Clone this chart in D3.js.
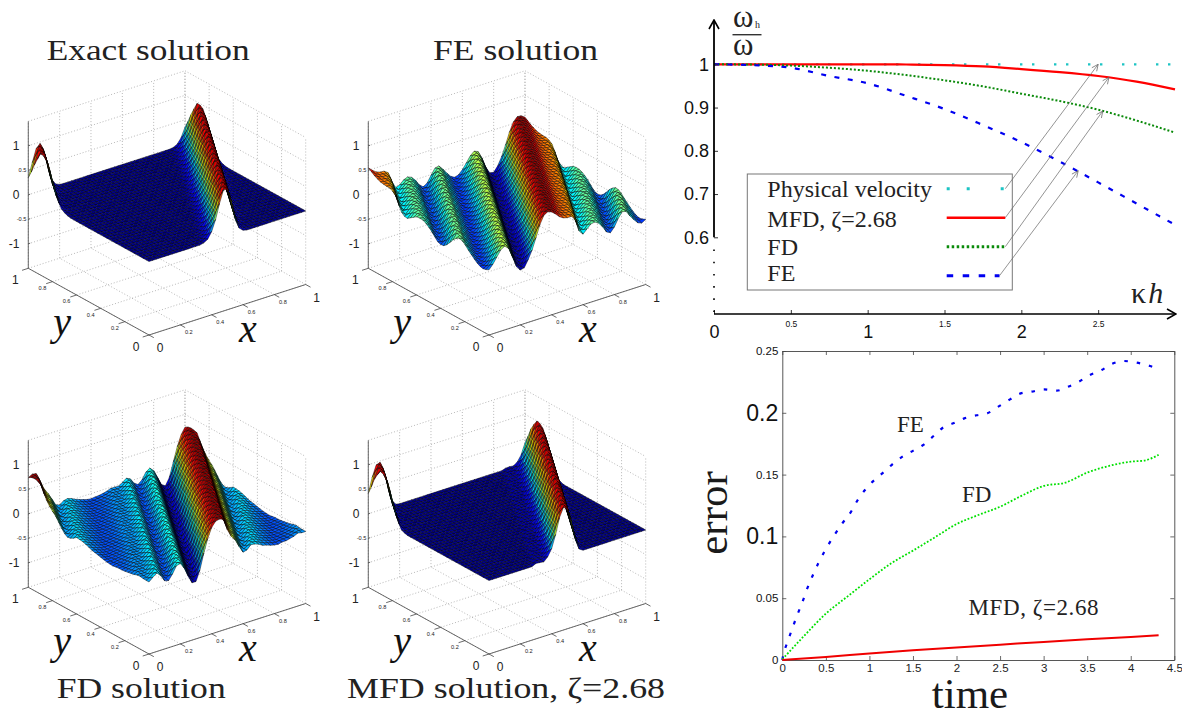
<!DOCTYPE html>
<html>
<head>
<meta charset="utf-8">
<script src="https://cdn.jsdelivr.net/npm/d3@7"></script>
<style>
    html, body { margin: 0; padding: 0; background: #fff; }
    svg { display: block; }
</style>
</head>
<body>
<div id="chart"></div>
<script>
// wave profiles, one value per phase station
const phaseStations = d3.range(41).map(i => i / 40);
const exactProfile = [0, 0, 0, 0, 0, 0, 0, 0, 0, 0, 0, 0, 0, 0, 0.02, 0.07, 0.2, 0.42, 0.72, 0.97, 0.97, 0.7, 0.3, 0.09, 0.02,
    0, 0, 0, 0, 0, 0, 0, 0, 0, 0, 0, 0, 0, 0, 0, 0];
const feProfile = [-0.17, -0.08, 0.04, 0.16, 0.21, 0.14, -0.06, -0.28, -0.38, -0.36, -0.22, -0.05, 0.18, 0.42, 0.58, 0.63, 0.6,
    0.53, 0.45, 0.4, 0.38, 0.38, 0.3, 0.03, -0.06, 0.02, 0.095, 0.11, 0.06, -0.04, -0.17, -0.21, -0.12, 0.03, 0.14, 0.12, 0,
    -0.1, -0.19, -0.22, -0.17];
const fdProfile = [-0.03, 0.04, 0.1, 0.02, -0.11, -0.13, -0.02, 0.12, 0.14, 0.02, -0.17, -0.33, -0.33, -0.12, 0.2, 0.47, 0.67,
    0.77, 0.79, 0.76, 0.52, 0.36, 0.26, 0.1, -0.04, -0.02, 0.06, 0.05, 0.02, -0.03, -0.05, -0.08, -0.1, -0.11, -0.09, -0.09,
    -0.07, -0.05, -0.01, -0.03, -0.03];
const mfdProfile = [0, 0, 0, 0, 0, 0, 0, 0, 0, 0, 0, 0, 0.04, 0.03, 0.02, 0.1, 0.24, 0.5, 0.82, 1, 0.96, 0.68, 0.28, 0.05, 0,
    0, 0, 0, 0, 0, 0, 0, 0, 0, 0, 0, 0, 0, 0, 0, 0];

const gridTicks = [0, 0.2, 0.4, 0.6, 0.8, 1];
const heightTicks = [-1, -0.5, 0, 0.5, 1];

// numerical velocity vs kh
const velocityK = [0, 0.25, 0.5, 0.75, 1, 1.25, 1.5, 1.75, 2, 2.25, 2.5, 2.75, 3];
const velocityPhysical = [1, 1, 1, 1, 1, 1, 1, 1, 1, 1, 1, 1, 1];
const velocityMfd = [1, 1, 1, 1, 1, 0.9995, 0.998, 0.995, 0.989, 0.982, 0.973, 0.96, 0.942];
const velocityFd = [1, 0.9995, 0.997, 0.992, 0.985, 0.975, 0.963, 0.949, 0.932, 0.915, 0.895, 0.87, 0.842];
const velocityFe = [1, 0.998, 0.992, 0.973, 0.956, 0.927, 0.8965, 0.8595, 0.82, 0.775, 0.727, 0.678, 0.629];
const velocityLegend = ["Physical velocity", "MFD, ζ=2.68", "FD", "FE"];
const arrowTipK = [2.5, 2.57, 2.53, 2.37];
const arrowTipV = [1, 0.97, 0.892, 0.754];

// error vs time
const feTime = [0, 0.011, 0.061, 0.115, 0.172, 0.23, 0.287, 0.348, 0.413, 0.49, 0.586, 0.689, 0.785, 0.865, 0.949, 1.037, 1.148,
    1.263, 1.389, 1.504, 1.619, 1.741, 1.848, 1.963, 2.09, 2.231, 2.354, 2.48, 2.614, 2.736, 2.863, 3.004, 3.15, 3.264, 3.398,
    3.532, 3.666, 3.781, 3.915, 4.068, 4.221, 4.3];
const feError = [0, 0.004, 0.0148, 0.0256, 0.0364, 0.0467, 0.058, 0.0682, 0.0782, 0.0885, 0.0998, 0.1106, 0.1195, 0.1294, 0.1375,
    0.1443, 0.151, 0.1583, 0.165, 0.1694, 0.174, 0.1815, 0.1882, 0.1915, 0.1955, 0.198, 0.1996, 0.205, 0.2109, 0.2157, 0.2171,
    0.219, 0.2179, 0.2206, 0.2249, 0.2306, 0.2346, 0.2395, 0.2419, 0.2406, 0.2379, 0.236];
const fdTime = [0, 0.25, 0.5, 0.75, 1, 1.25, 1.5, 1.75, 2, 2.25, 2.5, 2.75, 3, 3.25, 3.5, 3.75, 4, 4.15, 4.32];
const fdError = [0.0005, 0.0195, 0.0375, 0.0515, 0.0653, 0.0782, 0.0885, 0.0992, 0.11, 0.1173, 0.124, 0.133, 0.1408, 0.1435, 0.1516,
    0.157, 0.1605, 0.1613, 0.166];
const mfdTime = [0, 0.5, 1, 1.5, 2, 2.5, 3, 3.5, 4, 4.32];
const mfdError = [0, 0.0025, 0.0052, 0.0078, 0.0102, 0.0124, 0.0146, 0.0167, 0.0186, 0.02];
const timeTicks = [0, 0.5, 1, 1.5, 2, 2.5, 3, 3.5, 4, 4.5];
const errorTicks = [0, 0.05, 0.1, 0.15, 0.2, 0.25];

const SERIF = "'Liberation Serif', serif";
const SANS = "'Liberation Sans', sans-serif";

const svg = d3.select("#chart").append("svg")
    .attr("width", 1182)
    .attr("height", 717)
    .attr("viewBox", "0 0 1182 717");

const defs = svg.append("defs");
defs.append("marker")
    .attr("id", "thin-arrow")
    .attr("viewBox", "0 0 8 8")
    .attr("refX", 7.5).attr("refY", 4)
    .attr("markerWidth", 8).attr("markerHeight", 8)
    .attr("markerUnits", "userSpaceOnUse")
    .attr("orient", "auto")
    .append("path")
    .attr("d", "M1,1 L7.5,4 L1,7")
    .attr("fill", "none")
    .attr("stroke", "#666")
    .attr("stroke-width", 0.7);
defs.append("marker")
    .attr("id", "axis-arrow")
    .attr("viewBox", "0 0 12 12")
    .attr("refX", 11).attr("refY", 6)
    .attr("markerWidth", 12).attr("markerHeight", 12)
    .attr("markerUnits", "userSpaceOnUse")
    .attr("orient", "auto")
    .append("path")
    .attr("d", "M2,1 L11,6 L2,11")
    .attr("fill", "none")
    .attr("stroke", "#000")
    .attr("stroke-width", 1.6);

// ---------- 3d surfaces ----------
const MESH = 40;
const WAVE_SKEW = 0.583;

const jet = d3.scaleLinear()
    .domain([0, 0.125, 0.375, 0.625, 0.875, 1])
    .range(["#00008f", "#0000ff", "#00ffff", "#ffff00", "#ff0000", "#800000"]);

const xToLeft = d3.scaleLinear([0, 1], [0, 156.7]);
const xToTop = d3.scaleLinear([0, 1], [0, -50.5]);
const yToLeft = d3.scaleLinear([0, 1], [0, -120.7]);
const yToTop = d3.scaleLinear([0, 1], [0, -66.7]);
const zToTop = d3.scaleLinear([-1.5, 1.5], [0, -147]);

function project(x, y, z) {
    return [xToLeft(x) + yToLeft(y), xToTop(x) + yToTop(y) + zToTop(z)];
}

function drawSurfacePanel(left, top, profile) {
    const g = svg.append("g").attr("transform", `translate(${left},${top})`);
    const line = d3.line();

    // dotted back walls and floor
    const gridLines = [];
    gridTicks.forEach(t => {
        gridLines.push([project(t, 0, -1.5), project(t, 1, -1.5)]);
        gridLines.push([project(0, t, -1.5), project(1, t, -1.5)]);
        gridLines.push([project(t, 1, -1.5), project(t, 1, 1.5)]);
        gridLines.push([project(1, t, -1.5), project(1, t, 1.5)]);
    });
    heightTicks.concat([1.5]).forEach(z => {
        gridLines.push([project(0, 1, z), project(1, 1, z)]);
        gridLines.push([project(1, 1, z), project(1, 0, z)]);
    });
    g.append("g").selectAll("path")
        .data(gridLines)
        .join("path")
        .attr("d", line)
        .attr("fill", "none")
        .attr("stroke", "#999")
        .attr("stroke-width", 0.7)
        .attr("stroke-dasharray", "1 2");

    // surface, painted from the back corner to the front one
    const phaseScale = d3.scaleLinear(phaseStations, profile);
    const height = (x, y) => phaseScale((((x - WAVE_SKEW * y) % 1) + 1) % 1);
    const color = d3.scaleLinear(d3.extent(profile), [0, 1]);
    const cells = [];
    for (let i = MESH - 1; i >= 0; i--) {
        for (let j = MESH - 1; j >= 0; j--) {
            const corners = [[i, j], [i + 1, j], [i + 1, j + 1], [i, j + 1]].map(([a, b]) => {
                const x = a / MESH;
                const y = b / MESH;
                return { x, y, z: height(x, y) };
            });
            cells.push(corners);
        }
    }
    g.append("g").selectAll("path")
        .data(cells)
        .join("path")
        .attr("d", d => line(d.map(c => project(c.x, c.y, c.z))) + "Z")
        .attr("fill", d => jet(color(d3.mean(d, c => c.z))))
        .attr("stroke", "#000")
        .attr("stroke-width", 0.45);

    // axes
    const axisLines = [
        [project(0, 1, -1.5), project(0, 1, 1.5)],
        [project(0, 1, -1.5), project(0, 0, -1.5)],
        [project(0, 0, -1.5), project(1, 0, -1.5)]
    ];
    gridTicks.forEach(t => {
        axisLines.push([project(t, 0, -1.5), project(t, -0.04, -1.5)]);
        axisLines.push([project(0, t, -1.5), project(-0.04, t, -1.5)]);
    });
    heightTicks.forEach(z => {
        axisLines.push([project(0, 1, z), project(0.012, 1, z)]);
    });
    g.append("g").selectAll("path")
        .data(axisLines)
        .join("path")
        .attr("d", line)
        .attr("fill", "none")
        .attr("stroke", "#444")
        .attr("stroke-width", 0.8);

    // tick labels, the whole numbers are larger
    const isWhole = v => Number.isInteger(v);
    const labels = g.append("g").attr("font-family", SANS).attr("fill", "#222");
    labels.selectAll(".z-label")
        .data(heightTicks)
        .join("text")
        .attr("class", "z-label")
        .attr("x", d => project(0, 1, d)[0] - (isWhole(d) ? 9 : 2))
        .attr("y", d => project(0, 1, d)[1] + (isWhole(d) ? 4.5 : 2))
        .attr("text-anchor", "end")
        .attr("font-size", d => isWhole(d) ? 12 : 5.6)
        .text(d => d);
    labels.selectAll(".x-label")
        .data(gridTicks)
        .join("text")
        .attr("class", "x-label")
        .attr("x", d => project(d, 0, -1.5)[0] + (isWhole(d) ? 11 : 8.5))
        .attr("y", d => project(d, 0, -1.5)[1] + (isWhole(d) ? 17 : 9.5))
        .attr("text-anchor", "middle")
        .attr("font-size", d => isWhole(d) ? 12 : 5.6)
        .text(d => d);
    labels.selectAll(".y-label")
        .data(gridTicks)
        .join("text")
        .attr("class", "y-label")
        .attr("x", d => project(0, d, -1.5)[0] - (isWhole(d) ? 13 : 10))
        .attr("y", d => project(0, d, -1.5)[1] + (isWhole(d) ? 16 : 8.5))
        .attr("text-anchor", "middle")
        .attr("font-size", d => isWhole(d) ? 12 : 5.6)
        .text(d => d);

    g.append("text")
        .attr("x", 99).attr("y", 7)
        .attr("text-anchor", "middle")
        .attr("font-family", SERIF)
        .attr("font-style", "italic")
        .attr("font-size", 40)
        .attr("fill", "#111")
        .text("x");
    g.append("text")
        .attr("x", -87).attr("y", 0)
        .attr("text-anchor", "middle")
        .attr("font-family", SERIF)
        .attr("font-style", "italic")
        .attr("font-size", 40)
        .attr("fill", "#111")
        .text("y");
}

drawSurfacePanel(149, 335, exactProfile);
drawSurfacePanel(489, 335, feProfile);
drawSurfacePanel(149, 654, fdProfile);
drawSurfacePanel(489, 654, mfdProfile);

function panelTitle(label, x, y, length) {
    svg.append("text")
        .attr("x", x).attr("y", y)
        .attr("font-family", SERIF)
        .attr("font-size", 30)
        .attr("fill", "#222")
        .attr("textLength", length)
        .attr("lengthAdjust", "spacingAndGlyphs")
        .text(label);
}
panelTitle("Exact solution", 46.7, 60, 203);
panelTitle("FE solution", 433, 60, 165);
panelTitle("FD solution", 56.7, 698, 169);
panelTitle("MFD solution, ζ=2.68", 347, 698, 318);

// ---------- velocity chart ----------
const kX = d3.scaleLinear([0, 3], [714, 1175]);
const vY = d3.scaleLinear([0.6, 1], [237.3, 64.3]);
const AXIS_Y = 314;

const velocity = svg.append("g");
const velocityLine = d3.line()
    .x(d => kX(d[0]))
    .y(d => vY(d[1]))
    .curve(d3.curveMonotoneX);

const velocitySeries = [
    { values: velocityPhysical, color: "#1cc4c4", width: 2.2, dash: "2.4 9.6 2.4 19.6", keyDash: "3 17 3 31" },
    { values: velocityMfd, color: "#f00", width: 2.2, dash: null, keyDash: null },
    { values: velocityFd, color: "#0a8a0a", width: 2, dash: "2 2", keyDash: "2.5 2.5" },
    { values: velocityFe, color: "#0000f0", width: 2.2, dash: "5 8.5", keyDash: "6.5 9.5" }
];
velocitySeries.forEach(s => {
    velocity.append("path")
        .datum(velocityK.map((k, i) => [k, s.values[i]]))
        .attr("d", velocityLine)
        .attr("fill", "none")
        .attr("stroke", s.color)
        .attr("stroke-width", s.width)
        .attr("stroke-dasharray", s.dash);
});

const kAxis = d3.axisBottom(kX)
    .tickValues([0, 0.5, 1, 1.5, 2, 2.5])
    .tickFormat(d3.format("~g"))
    .tickSizeInner(-4)
    .tickSizeOuter(0);
const kAxisG = velocity.append("g")
    .attr("transform", `translate(0,${AXIS_Y})`)
    .call(kAxis);
kAxisG.select(".domain").remove();
kAxisG.selectAll("text")
    .attr("font-family", SANS)
    .attr("fill", "#111")
    .attr("font-size", d => Number.isInteger(d) ? 18 : 8.5)
    .attr("y", d => Number.isInteger(d) ? 11 : 6.5);
kAxisG.selectAll("line").attr("stroke", "#333");

const vAxis = d3.axisLeft(vY)
    .tickValues([0.6, 0.7, 0.8, 0.9, 1])
    .tickFormat(d3.format("~g"))
    .tickSizeInner(-4)
    .tickSizeOuter(0)
    .tickPadding(5);
const vAxisG = velocity.append("g")
    .attr("transform", `translate(${kX(0)},0)`)
    .call(vAxis);
vAxisG.select(".domain").remove();
vAxisG.selectAll("text")
    .attr("font-family", SANS)
    .attr("fill", "#111")
    .attr("font-size", 18);
vAxisG.selectAll("line").attr("stroke", "#333");

velocity.append("line")
    .attr("x1", kX(0)).attr("x2", 1176)
    .attr("y1", AXIS_Y).attr("y2", AXIS_Y)
    .attr("stroke", "#000").attr("stroke-width", 1.5)
    .attr("marker-end", "url(#axis-arrow)");
velocity.append("line")
    .attr("x1", kX(0)).attr("x2", kX(0))
    .attr("y1", vY(0.6)).attr("y2", 20)
    .attr("stroke", "#000").attr("stroke-width", 1.8)
    .attr("marker-end", "url(#axis-arrow)");
velocity.append("line")
    .attr("x1", kX(0)).attr("x2", kX(0))
    .attr("y1", 249.5).attr("y2", 312)
    .attr("stroke", "#000").attr("stroke-width", 1.6)
    .attr("stroke-dasharray", "1.6 10.6");

// omega ratio and kh labels
const omega = velocity.append("g").attr("font-family", SERIF).attr("fill", "#222");
omega.append("text").attr("x", 733).attr("y", 27).attr("font-size", 31).text("ω");
omega.append("text").attr("x", 755).attr("y", 28).attr("font-size", 10).text("h");
omega.append("text").attr("x", 733).attr("y", 55).attr("font-size", 31).text("ω");
omega.append("line")
    .attr("x1", 732.5).attr("x2", 761.5)
    .attr("y1", 34.7).attr("y2", 34.7)
    .attr("stroke", "#333").attr("stroke-width", 1.4);
const khLabel = velocity.append("text")
    .attr("x", 1131).attr("y", 303)
    .attr("font-family", SERIF)
    .attr("font-size", 30)
    .attr("fill", "#222");
khLabel.append("tspan").text("κ");
khLabel.append("tspan").attr("font-style", "italic").attr("dx", 2).text("h");

// legend box with leader arrows
const LEGEND = { left: 747.3, top: 174, right: 1012.3, bottom: 290 };
velocity.append("rect")
    .attr("x", LEGEND.left).attr("y", LEGEND.top)
    .attr("width", LEGEND.right - LEGEND.left)
    .attr("height", LEGEND.bottom - LEGEND.top)
    .attr("fill", "#fff")
    .attr("stroke", "#777")
    .attr("stroke-width", 1);
const legendKeyY = [188.7, 217.7, 246.7, 275.7];
const legendTextY = [196.5, 226.5, 255, 280.5];
const legendKeyEnd = [1005.3, 1005.3, 1005.3, 999.5];
velocitySeries.forEach((s, i) => {
    velocity.append("line")
        .attr("x1", 946.7).attr("x2", legendKeyEnd[i])
        .attr("y1", legendKeyY[i]).attr("y2", legendKeyY[i])
        .attr("stroke", s.color)
        .attr("stroke-width", i === 1 ? 2.6 : 3)
        .attr("stroke-dasharray", s.keyDash);
    velocity.append("text")
        .attr("x", 767.3).attr("y", legendTextY[i])
        .attr("font-family", SERIF)
        .attr("font-size", 24)
        .attr("fill", "#222")
        .text(velocityLegend[i]);
    velocity.append("line")
        .attr("x1", legendKeyEnd[i]).attr("y1", legendKeyY[i])
        .attr("x2", kX(arrowTipK[i])).attr("y2", vY(arrowTipV[i]))
        .attr("stroke", "#666")
        .attr("stroke-width", 0.7)
        .attr("marker-end", "url(#thin-arrow)");
});

// ---------- error chart ----------
const tX = d3.scaleLinear([0, 4.5], [782.3, 1174.3]);
const eY = d3.scaleLinear([0, 0.25], [660, 351]);

const errorChart = svg.append("g");
const errorLine = d3.line()
    .x(d => tX(d[0]))
    .y(d => eY(d[1]))
    .curve(d3.curveMonotoneX);

function errorAxis(axis, transform, labelled) {
    const axisG = errorChart.append("g")
        .attr("transform", transform)
        .call(axis.tickSizeInner(-4).tickSizeOuter(0).tickPadding(4)
            .tickFormat(labelled ? d3.format("~g") : ""));
    axisG.select(".domain").attr("stroke", "#444").attr("stroke-width", 0.9);
    axisG.selectAll("line").attr("stroke", "#444").attr("stroke-width", 0.8);
    return axisG;
}
errorAxis(d3.axisTop(tX).tickValues(timeTicks), `translate(0,${eY(0.25)})`, false);
errorAxis(d3.axisRight(eY).tickValues(errorTicks), `translate(${tX(4.5)},0)`, false);
const timeAxisG = errorAxis(d3.axisBottom(tX).tickValues(timeTicks), `translate(0,${eY(0)})`, true);
timeAxisG.selectAll("text")
    .attr("font-family", SANS)
    .attr("fill", "#222")
    .attr("font-size", 11.5);
const errorAxisG = errorAxis(d3.axisLeft(eY).tickValues(errorTicks), `translate(${tX(0)},0)`, true);
errorAxisG.selectAll("text")
    .attr("font-family", SANS)
    .attr("fill", "#111")
    .attr("font-size", d => (d === 0.1 || d === 0.2) ? 23 : 11.5);

errorChart.append("path")
    .datum(feTime.map((t, i) => [t, feError[i]]))
    .attr("d", errorLine)
    .attr("fill", "none")
    .attr("stroke", "#0000f0")
    .attr("stroke-width", 2.2)
    .attr("stroke-dasharray", "3.5 9");
errorChart.append("path")
    .datum(fdTime.map((t, i) => [t, fdError[i]]))
    .attr("d", errorLine)
    .attr("fill", "none")
    .attr("stroke", "#00e000")
    .attr("stroke-width", 1.8)
    .attr("stroke-dasharray", "1.8 1.8");
errorChart.append("path")
    .datum(mfdTime.map((t, i) => [t, mfdError[i]]))
    .attr("d", errorLine)
    .attr("fill", "none")
    .attr("stroke", "#f00000")
    .attr("stroke-width", 2);

const errorNotes = errorChart.append("g")
    .attr("font-family", SERIF)
    .attr("font-size", 23)
    .attr("fill", "#222");
errorNotes.append("text").attr("x", 897).attr("y", 432).text("FE");
errorNotes.append("text").attr("x", 962).attr("y", 502).text("FD");
errorNotes.append("text").attr("x", 968.5).attr("y", 615).attr("textLength", 130).text("MFD, ζ=2.68");

errorChart.append("text")
    .attr("x", 970).attr("y", 708)
    .attr("text-anchor", "middle")
    .attr("font-family", SERIF)
    .attr("font-size", 43)
    .attr("fill", "#1a1a1a")
    .text("time");
errorChart.append("text")
    .attr("transform", "translate(727,513) rotate(-90)")
    .attr("text-anchor", "middle")
    .attr("font-family", SERIF)
    .attr("font-size", 43)
    .attr("fill", "#1a1a1a")
    .text("error");
</script>
</body>
</html>
